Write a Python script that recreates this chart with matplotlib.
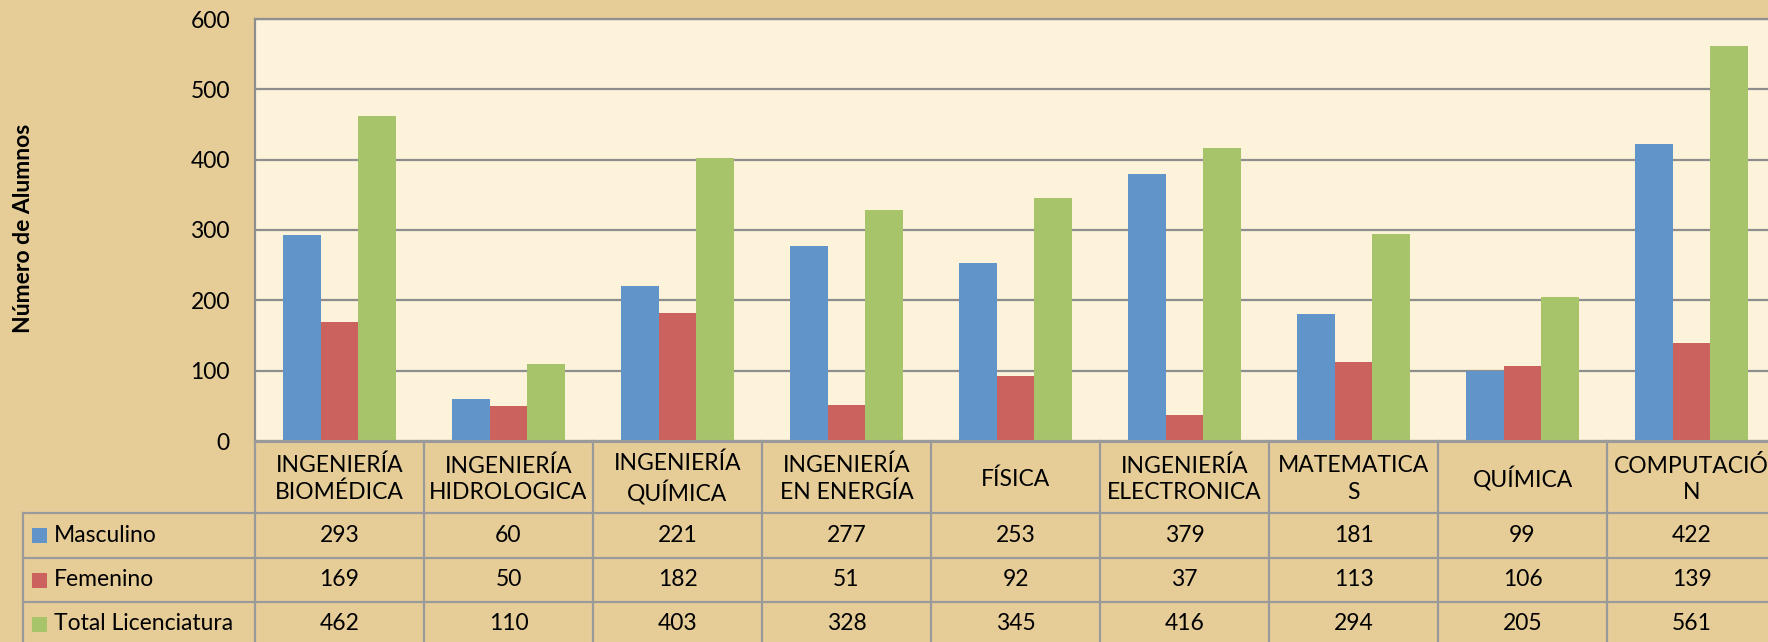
import matplotlib
matplotlib.use('Agg')
import matplotlib.pyplot as plt
import matplotlib.transforms as mtransforms
from matplotlib.patches import Rectangle

plt.rcParams['font.family'] = ['Lato', 'DejaVu Sans']

W, H = 1768, 642

CATEGORIES = [
    'INGENIERÍA\nBIOMÉDICA',
    'INGENIERÍA\nHIDROLOGICA',
    'INGENIERÍA\nQUÍMICA',
    'INGENIERÍA\nEN ENERGÍA',
    'FÍSICA',
    'INGENIERÍA\nELECTRONICA',
    'MATEMATICA\nS',
    'QUÍMICA',
    'COMPUTACIÓ\nN',
]
MASCULINO = [293, 60, 221, 277, 253, 379, 181, 99, 422]
FEMENINO  = [169, 50, 182, 51, 92, 37, 113, 106, 139]
TOTAL     = [462, 110, 403, 328, 345, 416, 294, 205, 561]
SERIES_NAMES = ['Masculino', 'Femenino', 'Total Licenciatura']
Y_TICKS = [0, 100, 200, 300, 400, 500, 600]

COLORS = ['#6194C8', '#CC625D', '#A8C46A']
BG      = '#E6CD98'
PLOT_BG = '#FDF2DA'
GRID    = '#8E8E8E'
BORDER  = '#9A9A9A'
FS      = 16.5


def fy(py):
    return 1 - py / H


def fx(px):
    return px / W


fig = plt.figure(figsize=(W / 100, H / 100), dpi=100)
fig.patch.set_facecolor(BG)

# plot area (right edge runs past the figure, as in the original)
ax_left, ax_right, ax_top, ax_bottom = 255, 1776, 19, 441
ax = fig.add_axes([fx(ax_left), fy(ax_bottom),
                   fx(ax_right - ax_left), (ax_bottom - ax_top) / H])
ax.set_facecolor(PLOT_BG)

n = len(CATEGORIES)
x = list(range(n))
bw = 0.222
for k, vals in enumerate([MASCULINO, FEMENINO, TOTAL]):
    ax.bar([i + (k - 1) * bw for i in x], vals, width=bw,
           color=COLORS[k], zorder=3, linewidth=0)

ax.set_xlim(-0.5, n - 0.5)
ax.set_ylim(0, 600)
ax.set_yticks(Y_TICKS)
ax.set_yticklabels([str(v) for v in Y_TICKS], fontsize=FS)
ax.tick_params(axis='y', length=0, pad=18)
ax.tick_params(axis='x', length=0, labelbottom=False)
ax.yaxis.grid(True, color=GRID, linewidth=1.6, zorder=1)
for s in ['right', 'bottom']:
    ax.spines[s].set_visible(False)
for s in ['left', 'top']:
    ax.spines[s].set_color(GRID)
    ax.spines[s].set_linewidth(1.6)

fig.text(fx(24), fy(228), 'Número de Alumnos', rotation=90, fontsize=16.5,
         fontweight='bold', ha='center', va='center')

# data table below the plot
tr = mtransforms.blended_transform_factory(ax.transData, fig.transFigure)
row_edges = [441, 513, 558, 602, 646]
left_px = 23

# horizontal table lines
fig.add_artist(plt.Line2D([fx(ax_left), fx(ax_right)], [fy(441)] * 2,
                          color=BORDER, linewidth=2.2))
for py in row_edges[1:]:
    fig.add_artist(plt.Line2D([fx(left_px), fx(ax_right)], [fy(py)] * 2,
                              color=BORDER, linewidth=1.6))
# vertical lines
fig.add_artist(plt.Line2D([fx(left_px)] * 2, [fy(513), fy(646)],
                          color=BORDER, linewidth=1.6))
for i in range(n + 1):
    ax.add_artist(plt.Line2D([i - 0.5] * 2, [fy(441), fy(646)],
                             color=BORDER, linewidth=1.6,
                             transform=tr, clip_on=False))

# header labels
for i, cat in enumerate(CATEGORIES):
    ax.text(i, fy(479), cat, transform=tr, ha='center', va='center',
            fontsize=FS, linespacing=1.3, clip_on=False)

# value rows with legend keys
for r, (name, vals) in enumerate(zip(SERIES_NAMES, [MASCULINO, FEMENINO, TOTAL])):
    yc = (row_edges[r + 1] + row_edges[r + 2]) / 2
    fig.add_artist(Rectangle((fx(32), fy(yc + 7.5)), fx(15), 15 / H,
                             facecolor=COLORS[r], edgecolor='none'))
    fig.text(fx(54), fy(yc), name, ha='left', va='center', fontsize=FS)
    for i, v in enumerate(vals):
        ax.text(i, fy(yc), str(v), transform=tr, ha='center', va='center',
                fontsize=FS, clip_on=False)

fig.savefig('out.png', dpi=100, facecolor=fig.get_facecolor())
